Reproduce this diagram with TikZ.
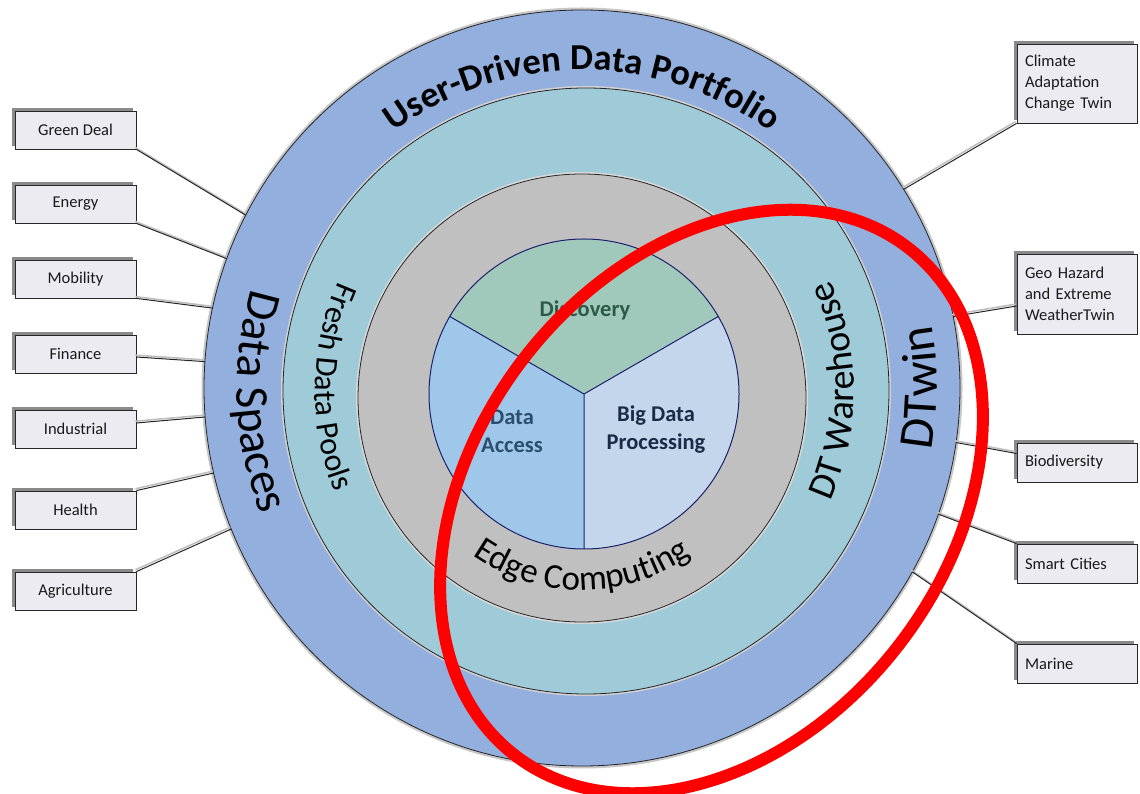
\documentclass[tikz,border=0pt]{standalone}
\usepackage{fontspec}
\setmainfont{Carlito}
\usetikzlibrary{decorations.text,shadows}
\definecolor{ringblue}{HTML}{93AFDE}
\definecolor{ringteal}{HTML}{9FCAD8}
\definecolor{ringgray}{HTML}{C0C0C0}
\definecolor{discfill}{HTML}{A0C9BC}
\definecolor{accfill}{HTML}{9EC7E9}
\definecolor{procfill}{HTML}{C4D6EC}
\definecolor{pieline}{HTML}{1B216B}
\definecolor{disctext}{HTML}{2C5A48}
\definecolor{acctext}{HTML}{2B4D6E}
\definecolor{proctext}{HTML}{1B2A47}
\definecolor{boxfill}{HTML}{ECEBF1}
\definecolor{boxshade}{HTML}{8A8A8A}
\begin{document}
\begin{tikzpicture}[x=1pt,y=1pt,
  ring/.style={draw=black!85, line width=0.8pt},
  halo/.style={draw=black!22, line width=5pt},
  sector/.style={draw=pieline, line width=1pt},
  tagbox/.style={draw=black!85, line width=0.8pt, fill=boxfill,
    minimum width=121pt, minimum height=38pt, inner sep=0pt,
    font=\fontsize{16.5}{21}\selectfont, text=black!90,
    general shadow={shadow xshift=-3pt, shadow yshift=3pt, fill=boxshade}},
  tagboxr/.style={tagbox, minimum width=120pt, text width=104pt,
    inner xsep=8pt, align=left},
  link/.style={draw=black!85, line width=1pt,
    preaction={draw=black!25, line width=1.6pt,
      transform canvas={xshift=-1pt, yshift=1.8pt}}},
  pielabel/.style={font=\bfseries\fontsize{22.5}{28}\selectfont, align=center}
]
\useasboundingbox (0,0) rectangle (1140,793);

% ring centres
\coordinate (OC) at (582,405);
\coordinate (TC) at (586,402);
\coordinate (GC) at (582,395);
\coordinate (PC) at (584,399);

% outer ring
\draw[halo] (OC) circle[radius=378pt];
\fill[ringblue] (OC) circle[radius=378pt];
\draw[ring] (OC) circle[radius=378pt];
% teal ring
\draw[halo, draw=black!18, line width=4pt] (TC) circle[radius=303pt];
\fill[ringteal] (TC) circle[radius=303pt];
\draw[ring] (TC) circle[radius=303pt];
% gray ring
\draw[halo, draw=black!15, line width=4pt] (GC) circle[radius=224pt];
\fill[ringgray] (GC) circle[radius=224pt];
\draw[ring] (GC) circle[radius=224pt];

% core pie
\fill[discfill] (PC) -- ([shift={(30:155pt)}]PC) arc[start angle=30,end angle=150,radius=155pt] -- cycle;
\fill[accfill] (PC) -- ([shift={(150:155pt)}]PC) arc[start angle=150,end angle=270,radius=155pt] -- cycle;
\fill[procfill] (PC) -- ([shift={(270:155pt)}]PC) arc[start angle=270,end angle=390,radius=155pt] -- cycle;
\draw[sector] (PC) circle[radius=155pt];
\draw[sector] (PC) -- ([shift={(30:155pt)}]PC)
              (PC) -- ([shift={(150:155pt)}]PC)
              (PC) -- ([shift={(270:155pt)}]PC);

\node[pielabel, text=disctext] (disc) at (585,483) {Discovery};
\node[pielabel, text=acctext] (acc) at (512,362) {Data\\Access};
\node[pielabel, text=proctext] (proc) at (656,363) {Big Data\\Processing};

% ring labels
\path[decorate, decoration={text along path, text align=center,
  text={|\fontsize{36.5}{36.5}\selectfont\bfseries|User-Driven Data Portfolio}}]
  ([shift={(150:318pt)}]OC) arc[start angle=150, end angle=30, radius=318pt];
\path[decorate, decoration={text along path, text align=center,
  text={|\fontsize{47}{47}\selectfont|Data Spaces}}]
  ([shift={(132.4:345pt)}]OC) arc[start angle=132.4, end angle=232.4, radius=345pt];
\path[decorate, decoration={text along path, text align=center,
  text={|\fontsize{49}{49}\selectfont|DTwin}}]
  ([shift={(-50:355pt)}]OC) arc[start angle=-50, end angle=50, radius=355pt];
\path[decorate, decoration={text along path, text align=center,
  text={|\fontsize{32}{32}\selectfont|Fresh Data Pools}}]
  ([shift={(129:271pt)}]TC) arc[start angle=129, end angle=229, radius=271pt];
\path[decorate, decoration={text along path, text align=center,
  text={|\fontsize{38}{38}\selectfont|DT Warehouse}}]
  ([shift={(-50:268pt)}]TC) arc[start angle=-50, end angle=50, radius=268pt];
\path[decorate, decoration={text along path, text align=center,
  text={|\fontsize{35}{35}\selectfont|Edge Computing}}]
  ([shift={(220:192pt)}]GC) arc[start angle=220, end angle=320, radius=192pt];

% connector ends on the outer ring
\coordinate (eGD) at ([shift={(152.8:378pt)}]OC);
\coordinate (eEN) at ([shift={(160.0:378pt)}]OC);
\coordinate (eMO) at ([shift={(167.8:378pt)}]OC);
\coordinate (eFI) at ([shift={(176.0:378pt)}]OC);
\coordinate (eIN) at ([shift={(184.4:378pt)}]OC);
\coordinate (eHE) at ([shift={(193.0:378pt)}]OC);
\coordinate (eAG) at ([shift={(201.9:378pt)}]OC);
\coordinate (eCL) at ([shift={(31.7:378pt)}]OC);
\coordinate (eGH) at ([shift={(10.9:378pt)}]OC);
\coordinate (eBI) at ([shift={(-8.3:378pt)}]OC);
\coordinate (eSC) at ([shift={(-19.5:378pt)}]OC);
\coordinate (eMA) at ([shift={(-29.1:378pt)}]OC);

% sector boxes, left
\node[tagbox] (gd) at (75.5,663) {Green Deal};
\node[tagbox] (en) at (75.5,589) {Energy};
\node[tagbox] (mo) at (75.5,514) {Mobility};
\node[tagbox] (fi) at (75.5,439) {Finance};
\node[tagbox] (in) at (75.5,364) {Industrial};
\node[tagbox] (he) at (75.5,283) {Health};
\node[tagbox] (ag) at (75.5,202) {Agriculture};
% twin boxes, right
\node[tagboxr, minimum height=79pt] (cl) at (1077,709.5) {Climate\\Adaptation\\Change Twin};
\node[tagboxr, minimum height=80pt] (gh) at (1077,499) {Geo Hazard\\and Extreme\\WeatherTwin};
\node[tagboxr, minimum height=39pt] (bi) at (1077,330.5) {Biodiversity};
\node[tagboxr, minimum height=39pt] (sc) at (1077,229.5) {Smart Cities};
\node[tagboxr, minimum height=39pt] (ma) at (1077,129.5) {Marine};

% connectors
\draw[link] (gd.south east) -- (eGD);
\draw[link] (en.south east) -- (eEN);
\draw[link] (mo.south east) -- (eMO);
\draw[link] ([yshift=-3pt]fi.east) -- (eFI);
\draw[link] ([yshift=6pt]in.east) -- (eIN);
\draw[link] (he.north east) -- (eHE);
\draw[link] (ag.north east) -- (eAG);
\draw[link] (cl.south west) -- (eCL);
\draw[link] ([yshift=-12pt]gh.west) -- (eGH);
\draw[link] ([yshift=9pt]bi.west) -- (eBI);
\draw[link] (sc.north west) -- (eSC);
\draw[link] (ma.north west) -- (eMA);

% highlight ellipse
\coordinate (RE) at (711.5,291.5);
\draw[red, line width=12pt, rotate around={52:(RE)}]
  (RE) ellipse[x radius=321pt, y radius=236pt];
\end{tikzpicture}
\end{document}
